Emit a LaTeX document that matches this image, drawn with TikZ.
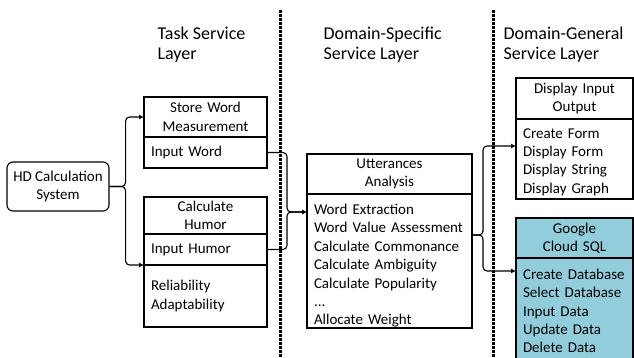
\documentclass[tikz,border=0pt]{standalone}
\usepackage{fontspec}
\setmainfont{Carlito}
\usetikzlibrary{positioning,arrows.meta}

\definecolor{sqlblue}{RGB}{146,205,220}

\tikzset{
  layer/.style={anchor=north west, inner sep=0pt, align=left,
    font=\fontsize{18}{20.5}\selectfont},
  titlebox/.style={draw, fill=white, anchor=north west, align=center,
    inner xsep=2pt, inner ysep=0pt, outer sep=0pt,
    font=\fontsize{15}{18.4}\selectfont},
  itembox/.style={draw, fill=white, align=left, inner xsep=7pt,
    inner ysep=0pt, outer sep=0pt, font=\fontsize{15}{18.4}\selectfont},
  conn/.style={-{Latex[length=5pt,width=5pt]}, rounded corners=4pt},
  divider/.style={line width=3pt, dash pattern=on 2.6pt off 1.4pt}
}

\begin{document}
\begin{tikzpicture}[x=1pt, y=-1pt, line width=1.1pt]
  \useasboundingbox (0,0) rectangle (634,357);
  \clip (0,0) rectangle (634,357);

  % layer separators
  \draw[divider] (280,10) -- (280,357);
  \draw[divider] (493,10) -- (493,357);

  % layer names
  \node[layer] (task) at (157,26) {Task Service\\Layer};
  \node[layer] (dspec) at (323,26) {Domain-Specific\\Service Layer};
  \node[layer] (dgen) at (503,26) {Domain-General\\Service Layer};

  % task service layer
  \node[draw, rounded corners=6pt, align=center, minimum width=102pt,
    minimum height=49pt, font=\fontsize{15}{18.4}\selectfont]
    (hd) at (58,186.5) {HD Calculation\\System};

  \node[titlebox, text width=119pt, minimum height=40pt] (store) at (144,97)
    {Store Word\\Measurement};
  \node[itembox, text width=109pt, minimum height=31pt, below=0pt of store]
    (store-in) {Input Word};

  \node[titlebox, text width=119pt, minimum height=37pt] (humor) at (144,197)
    {Calculate\\Humor};
  \node[itembox, text width=109pt, minimum height=31pt, below=0pt of humor]
    (humor-in) {Input Humor};
  \node[itembox, text width=109pt, minimum height=62pt, below=0pt of humor-in]
    (humor-ex) {Reliability\\Adaptability};

  % domain-specific service layer
  \node[titlebox, text width=161pt, minimum height=40pt] (utter) at (307,154)
    {Utterances\\Analysis};
  \node[itembox, text width=151pt, minimum height=134pt, below=0pt of utter]
    (utter-in) {\rule{0pt}{20pt}Word Extraction\\Word Value Assessment\\
    Calculate Commonance\\Calculate Ambiguity\\Calculate Popularity\\...\\
    Allocate Weight};

  % domain-general service layer
  \node[titlebox, text width=113pt, minimum height=41pt] (disp) at (516,78)
    {Display Input\\Output};
  \node[itembox, text width=103pt, minimum height=80pt, below=0pt of disp]
    (disp-in) {\rule{0pt}{16pt}Create Form\\Display Form\\Display String\\
    Display Graph};

  \node[titlebox, fill=sqlblue, text width=113pt, minimum height=40pt] (sql)
    at (516,218) {Google\\Cloud SQL};
  \node[itembox, fill=sqlblue, text width=103pt, minimum height=106pt,
    below=0pt of sql] (sql-in)
    {Create Database\\Select Database\\Input Data\\Update Data\\Delete Data};

  % ports on the box sides
  \coordinate (utter-port) at ([yshift=-18pt]utter-in.north west);
  \coordinate (utter-out) at ([yshift=-41pt]utter-in.north east);
  \coordinate (disp-port) at ([yshift=-27pt]disp-in.north west);
  \coordinate (sql-port) at ([yshift=-13pt]sql-in.north west);

  % connectors
  \draw[conn] (hd.east) -- ++(16,0) |- (store.west);
  \draw[conn] (hd.east) -- ++(16,0) |- (humor-ex.north west);
  \draw[conn] (store-in.east) -- ++(20,0) |- (utter-port);
  \draw[conn] (humor-in.east) -- ++(20,0) |- (utter-port);
  \draw[conn] (utter-out) -- ++(11,0) |- (disp-port);
  \draw[conn] (utter-out) -- ++(11,0) |- (sql-port);
\end{tikzpicture}
\end{document}
